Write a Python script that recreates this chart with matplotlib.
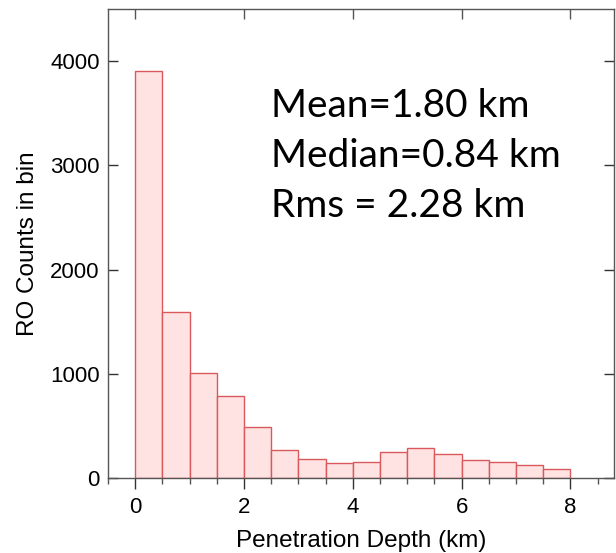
import matplotlib
matplotlib.use("Agg")
import matplotlib.pyplot as plt
import numpy as np
from matplotlib.ticker import MultipleLocator

# histogram of penetration depth, 0.5 km bins
bin_edges = [0.0, 0.5, 1.0, 1.5, 2.0, 2.5, 3.0, 3.5, 4.0, 4.5, 5.0, 5.5, 6.0, 6.5, 7.0, 7.5, 8.0]
counts = [3910, 1590, 1005, 790, 487, 272, 180, 147, 152, 247, 285, 231, 176, 151, 122, 84]

stats_lines = ["Mean=1.80 km", "Median=0.84 km", "Rms = 2.28 km"]

plt.rcParams['font.family'] = ['Liberation Sans', 'DejaVu Sans']

fig = plt.figure(figsize=(6.16, 5.53), dpi=100)
ax = fig.add_axes([0.1753, 0.1356, 0.8215, 0.8481])

widths = np.diff(bin_edges)
ax.bar(bin_edges[:-1], counts, width=widths, align='edge',
       color='#ffe2e2', edgecolor='#d9595c', linewidth=1.0)

ax.set_xlim(-0.5, 8.8)
ax.set_ylim(0, 4500)
ax.set_xticks([0, 2, 4, 6, 8])
ax.xaxis.set_minor_locator(MultipleLocator(0.5))
ax.set_yticks([0, 1000, 2000, 3000, 4000])

for s in ax.spines.values():
    s.set_color('#555555')
    s.set_linewidth(1.0)

ax.tick_params(axis='x', which='major', direction='out', length=8, width=1,
               color='#333333', labelsize=16, pad=6, top=False)
ax.tick_params(axis='x', which='minor', direction='out', length=4, width=1,
               color='#555555', top=False)
ax.tick_params(axis='y', which='major', direction='in', length=7, width=1,
               color='#333333', labelsize=16, right=True, pad=6)

# top axis ticks pointing inward
sec = ax.secondary_xaxis('top')
sec.set_xticks([0, 2, 4, 6, 8])
sec.tick_params(direction='in', length=7, width=1, color='#555555', labeltop=False)
sec.spines['top'].set_visible(False)

ax.set_xlabel('Penetration Depth (km)', fontsize=17.5, labelpad=8)
ax.set_ylabel('RO Counts in bin', fontsize=17.5, labelpad=8)

for i, line in enumerate(stats_lines):
    ax.text(0.322, 0.770 - i * 0.1066, line, transform=ax.transAxes,
            fontsize=28, family=['Lato', 'DejaVu Sans'], ha='left', va='baseline')

fig.savefig('out.png', dpi=100)
